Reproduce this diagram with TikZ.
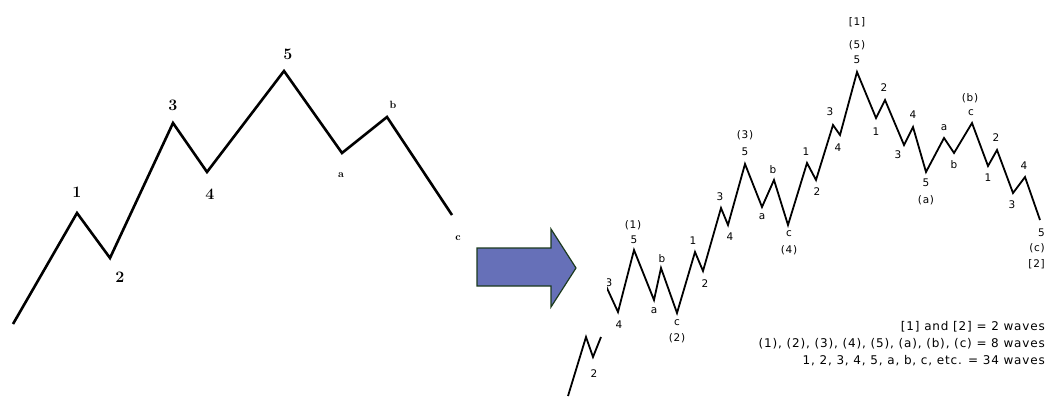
\documentclass[tikz,border=0pt]{standalone}
\usepackage{fontspec}
\newfontfamily\chartfont[LetterSpace=7]{DejaVu Sans}
\definecolor{arrowblue}{RGB}{102,112,184}
\definecolor{arrowedge}{RGB}{28,58,30}

\begin{document}
\begin{tikzpicture}[x=1pt, y=-1pt,
	bigwave/.style={line width=2.6pt, line join=miter},
	smallwave/.style={line width=1.8pt, line join=miter},
	numlbl/.style={inner sep=0pt, font=\fontsize{16}{16}\selectfont\bfseries},
	letlbl/.style={inner sep=0pt, font=\fontsize{10.5}{10.5}\selectfont\bfseries},
	sublbl/.style={inner sep=0pt, font=\chartfont\fontsize{10.5}{10.5}\selectfont},
	notelbl/.style={inner sep=0pt, anchor=east, font=\chartfont\fontsize{12}{12}\selectfont}]
	\useasboundingbox (0, 0) rectangle (1046, 396);
	% left: 5-3 pattern
	\coordinate (s0) at (13, 324);
	\coordinate (s1) at (77, 213);
	\coordinate (s2) at (110, 258);
	\coordinate (s3) at (173, 123);
	\coordinate (s4) at (207, 172);
	\coordinate (s5) at (284, 71);
	\coordinate (sa) at (342, 153);
	\coordinate (sb) at (387, 117);
	\coordinate (sc) at (452, 215);
	\draw [bigwave] (s0) -- (s1) -- (s2) -- (s3) -- (s4) -- (s5) -- (sa) -- (sb) -- (sc);
	\node [numlbl] (l1) at (77, 192) {1};
	\node [numlbl] (l2) at (120, 277) {2};
	\node [numlbl] (l3) at (173, 105) {3};
	\node [numlbl] (l4) at (210, 194) {4};
	\node [numlbl] (l5) at (288, 54) {5};
	\node [letlbl] (la) at (341, 175) {a};
	\node [letlbl] (lb) at (393, 105) {b};
	\node [letlbl] (lc) at (458, 238) {c};
	% block arrow
	\draw [fill=arrowblue, draw=arrowedge, line width=1.2pt]
		(477, 248) -- (551, 248) -- (551, 229) -- (576, 268) -- (551, 307) -- (551, 286) -- (477, 286) -- cycle;
	% lower fragment
	\coordinate (f0) at (568, 396);
	\coordinate (f1) at (586, 337);
	\coordinate (f2) at (593, 357);
	\coordinate (f3) at (601, 337);
	\draw [smallwave] (f0) -- (f1) -- (f2) -- (f3);
	\node [sublbl] (f2l) at (594, 374) {2};
	% right: subdivided waves
	\begin{scope}
		\clip (607, 0) rectangle (1046, 396);
		\coordinate (r0) at (606, 286);
		\coordinate (r1) at (618, 312);
		\coordinate (r2) at (634, 250);
		\coordinate (r3) at (654, 300);
		\coordinate (r4) at (661, 268);
		\coordinate (r5) at (677, 313);
		\coordinate (r6) at (695, 252);
		\coordinate (r7) at (703, 271);
		\coordinate (r8) at (721, 208);
		\coordinate (r9) at (728, 225);
		\coordinate (r10) at (745, 164);
		\coordinate (r11) at (762, 207);
		\coordinate (r12) at (774, 180);
		\coordinate (r13) at (788, 225);
		\coordinate (r14) at (807, 163);
		\coordinate (r15) at (816, 180);
		\coordinate (r16) at (833, 125);
		\coordinate (r17) at (840, 135);
		\coordinate (r18) at (857, 72);
		\coordinate (r19) at (876, 118);
		\coordinate (r20) at (885, 100);
		\coordinate (r21) at (904, 145);
		\coordinate (r22) at (913, 127);
		\coordinate (r23) at (926, 172);
		\coordinate (r24) at (944, 138);
		\coordinate (r25) at (954, 153);
		\coordinate (r26) at (972, 123);
		\coordinate (r27) at (988, 166);
		\coordinate (r28) at (997, 150);
		\coordinate (r29) at (1013, 193);
		\coordinate (r30) at (1025, 177);
		\coordinate (r31) at (1040, 220);
		\draw [smallwave] (r0) -- (r1) -- (r2) -- (r3) -- (r4) -- (r5) -- (r6) -- (r7) -- (r8) -- (r9)
			-- (r10) -- (r11) -- (r12) -- (r13) -- (r14) -- (r15) -- (r16) -- (r17) -- (r18) -- (r19)
			-- (r20) -- (r21) -- (r22) -- (r23) -- (r24) -- (r25) -- (r26) -- (r27) -- (r28) -- (r29)
			-- (r30) -- (r31);
		\node [sublbl] (q0) at (609, 283) {3};
		\node [sublbl] (q1) at (619, 325) {4};
		\node [sublbl] (q2) at (634, 240) {5};
		\node [sublbl] (q2b) at (633, 225) {(1)};
		\node [sublbl] (q3) at (654, 311) {a};
		\node [sublbl] (q4) at (662, 259) {b};
		\node [sublbl] (q5) at (677, 323) {c};
		\node [sublbl] (q5b) at (677, 338) {(2)};
		\node [sublbl] (q6) at (693, 241) {1};
		\node [sublbl] (q7) at (705, 284) {2};
		\node [sublbl] (q8) at (720, 197) {3};
		\node [sublbl] (q9) at (730, 237) {4};
		\node [sublbl] (q10) at (745, 152) {5};
		\node [sublbl] (q10b) at (745, 135) {(3)};
		\node [sublbl] (q11) at (762, 217) {a};
		\node [sublbl] (q12) at (773, 170) {b};
		\node [sublbl] (q13) at (789, 234) {c};
		\node [sublbl] (q13b) at (789, 250) {(4)};
		\node [sublbl] (q14) at (806, 152) {1};
		\node [sublbl] (q15) at (817, 192) {2};
		\node [sublbl] (q16) at (830, 112) {3};
		\node [sublbl] (q17) at (838, 148) {4};
		\node [sublbl] (q18) at (857, 60) {5};
		\node [sublbl] (q18b) at (857, 45) {(5)};
		\node [sublbl] (q18c) at (857, 22) {[1]};
		\node [sublbl] (q19) at (876, 132) {1};
		\node [sublbl] (q20) at (884, 88) {2};
		\node [sublbl] (q21) at (898, 155) {3};
		\node [sublbl] (q22) at (913, 115) {4};
		\node [sublbl] (q23) at (926, 183) {5};
		\node [sublbl] (q23b) at (926, 200) {(a)};
		\node [sublbl] (q24) at (944, 128) {a};
		\node [sublbl] (q25) at (954, 165) {b};
		\node [sublbl] (q26) at (971, 113) {c};
		\node [sublbl] (q26b) at (970, 98) {(b)};
		\node [sublbl] (q27) at (988, 178) {1};
		\node [sublbl] (q28) at (996, 138) {2};
		\node [sublbl] (q29) at (1012, 205) {3};
		\node [sublbl] (q30) at (1024, 166) {4};
		\node [sublbl, anchor=east] (q31) at (1045, 233) {5};
		\node [sublbl, anchor=east] (q31b) at (1045, 248) {(c)};
		\node [sublbl, anchor=east] (q31c) at (1045, 264) {[2]};
	\end{scope}
	% wave counts
	\node [notelbl] (n1) at (1045, 327) {[1] and [2] = 2 waves};
	\node [notelbl] (n2) at (1045, 344) {(1), (2), (3), (4), (5), (a), (b), (c) = 8 waves};
	\node [notelbl] (n3) at (1045, 361) {1, 2, 3, 4, 5, a, b, c, etc. = 34 waves};
\end{tikzpicture}
\end{document}
